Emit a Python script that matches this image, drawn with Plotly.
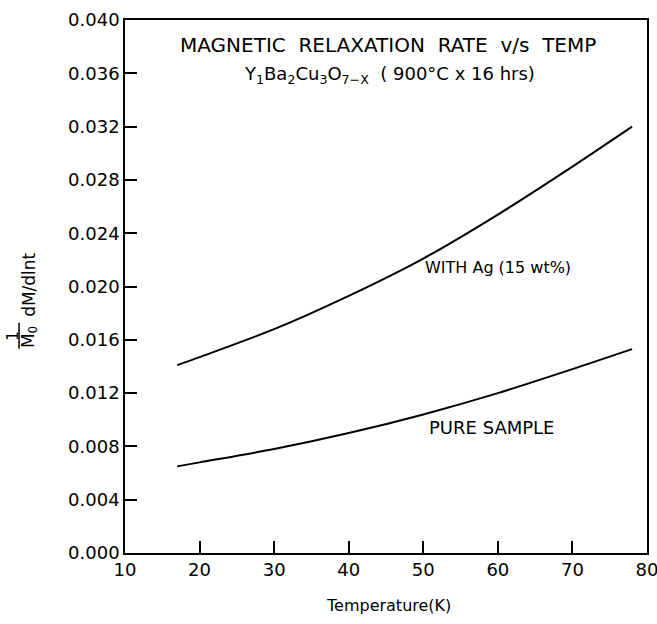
import plotly.graph_objects as go

temp = [17, 20, 30, 40, 50, 60, 70, 78]
with_ag = [0.0141, 0.0147, 0.0168, 0.0193, 0.0221, 0.0254, 0.0290, 0.0320]
pure = [0.0065, 0.0068, 0.0078, 0.0090, 0.0104, 0.0120, 0.0138, 0.0153]
x_ticks = [10, 20, 30, 40, 50, 60, 70, 80]
y_ticks = [0.000, 0.004, 0.008, 0.012, 0.016, 0.020, 0.024, 0.028, 0.032, 0.036, 0.040]

FONT = "DejaVu Sans"

fig = go.Figure()
fig.add_trace(go.Scatter(x=temp, y=with_ag, mode="lines", line=dict(color="black", width=2, shape="spline", smoothing=0.8),
                         name="WITH Ag (15 wt%)", showlegend=False))
fig.add_trace(go.Scatter(x=temp, y=pure, mode="lines", line=dict(color="black", width=2, shape="spline", smoothing=0.8),
                         name="PURE SAMPLE", showlegend=False))

fig.update_layout(
    width=657, height=624,
    margin=dict(l=125, r=10, t=20, b=71, autoexpand=False),
    paper_bgcolor="white", plot_bgcolor="white",
    font=dict(family=FONT, color="black", size=16),
    xaxis=dict(range=[10, 80], tickvals=x_ticks, ticks="inside", ticklen=12, tickwidth=1.5,
               tickcolor="black", showline=True, linecolor="black", linewidth=1.5, mirror=True,
               showgrid=False, zeroline=False, tickfont=dict(size=18), automargin=False,
               ticklabeloverflow="allow"),
    yaxis=dict(range=[0, 0.040], tickvals=y_ticks, tickformat=".3f", ticks="inside", ticklen=12,
               tickwidth=1.5, tickcolor="black", showline=True, linecolor="black", linewidth=1.5,
               mirror=True, showgrid=False, zeroline=False, tickfont=dict(size=18), automargin=False,
               ticklabeloverflow="allow"),
)

fig.add_annotation(text="MAGNETIC  RELAXATION  RATE  v/s  TEMP", xref="paper", yref="paper",
                   x=0.504, y=0.953, xanchor="center", yanchor="middle", showarrow=False, font=dict(size=20))
fig.add_annotation(text="Y<sub>1</sub>Ba<sub>2</sub>Cu<sub>3</sub>O<sub>7\u2212X</sub>  ( 900\u00b0C x 16 hrs)",
                   xref="x", yref="y", x=45.5, y=0.0359, xanchor="center", yanchor="middle",
                   showarrow=False, font=dict(size=18))
fig.add_annotation(text="WITH Ag (15 wt%)", xref="x", yref="y", x=60.0, y=0.0214,
                   xanchor="center", yanchor="middle", showarrow=False, font=dict(size=16))
fig.add_annotation(text="PURE SAMPLE", xref="x", yref="y", x=59.2, y=0.00945,
                   xanchor="center", yanchor="middle", showarrow=False, font=dict(size=18))
fig.add_annotation(text="Temperature(K)", xref="paper", yref="paper", x=0.504, y=-0.098,
                   xanchor="center", yanchor="middle", showarrow=False, font=dict(size=16))

# y-axis title drawn as a stacked fraction: 1 / M0  dM/dlnt
fig.add_annotation(text="dM/dlnt", xref="paper", yref="paper", x=-0.184, y=0.503,
                   textangle=-90, xanchor="center", yanchor="middle", showarrow=False, font=dict(size=17))
fig.add_annotation(text="M<sub>0</sub>", xref="paper", yref="paper", x=-0.184, y=0.405,
                   textangle=-90, xanchor="center", yanchor="middle", showarrow=False, font=dict(size=17))
fig.add_annotation(text="1", xref="paper", yref="paper", x=-0.215, y=0.407,
                   textangle=-90, xanchor="center", yanchor="middle", showarrow=False, font=dict(size=15))
fig.add_shape(type="line", xref="paper", yref="paper", x0=-0.203, x1=-0.203, y0=0.383, y1=0.432,
              line=dict(color="black", width=1.5))

fig.write_html("out.html")
